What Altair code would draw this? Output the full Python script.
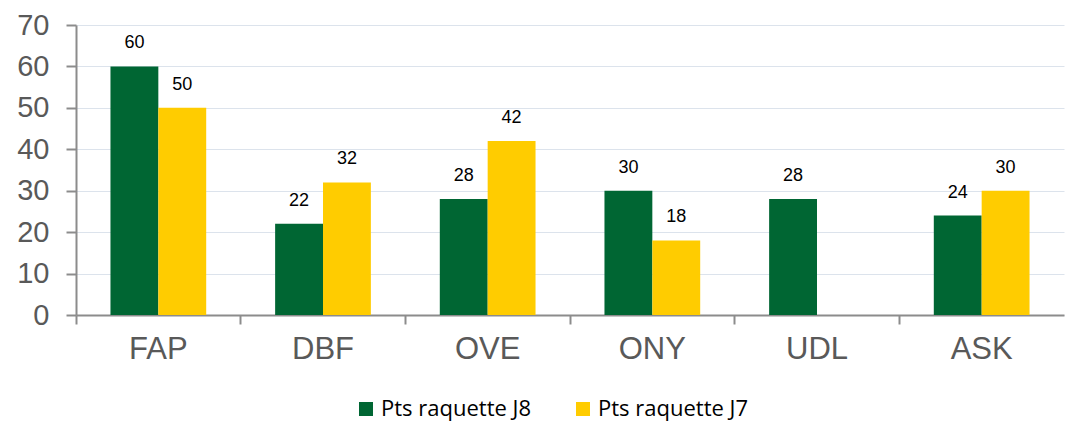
import altair as alt
import pandas as pd

categories = ["FAP", "DBF", "OVE", "ONY", "UDL", "ASK"]
series_names = ["Pts raquette J8", "Pts raquette J7"]
j8_values = [60, 22, 28, 30, 28, 24]
j7_values = [50, 32, 42, 18, None, 30]

rows = []
for c, a, b in zip(categories, j8_values, j7_values):
    rows.append({"cat": c, "serie": series_names[0], "val": a})
    rows.append({"cat": c, "serie": series_names[1], "val": b})
df = pd.DataFrame(rows)

colors = ["#006633", "#FFCC00"]

x = alt.X("cat:N", sort=categories, title=None,
          scale=alt.Scale(paddingInner=0, paddingOuter=0),
          axis=alt.Axis(labelAngle=0, labelFontSize=31, labelColor="#595959",
                        labelFont="Liberation Sans", labelPadding=10,
                        domainColor="#8C8C8C", domainWidth=2, tickColor="#8C8C8C",
                        tickWidth=2, tickSize=9, bandPosition=0, grid=False))
xo = alt.XOffset("serie:N", sort=series_names,
                 scale=alt.Scale(paddingInner=0, paddingOuter=0.72))
y = alt.Y("val:Q", title=None,
          scale=alt.Scale(domain=[0, 70]),
          axis=alt.Axis(values=list(range(0, 71, 10)), labelFontSize=29,
                        labelColor="#595959", labelFont="Liberation Sans",
                        labelPadding=17, domainColor="#8C8C8C", domainWidth=2,
                        tickColor="#8C8C8C", tickWidth=2, tickSize=10,
                        gridColor="#DCE3EC", gridWidth=1))

base = alt.Chart(df).transform_filter("datum.val != null")

bars = base.mark_bar().encode(
    x=x, xOffset=xo, y=y,
    color=alt.Color("serie:N", sort=series_names, title=None,
                    scale=alt.Scale(domain=series_names, range=colors),
                    legend=alt.Legend(orient="none", direction="horizontal",
                                      legendX=279, legendY=373,
                                      symbolType="square", symbolSize=196,
                                      symbolStrokeWidth=0,
                                      labelFontSize=22, labelFont="Open Sans",
                                      labelColor="#000000", columnPadding=40,
                                      labelLimit=300)),
)

labels = base.mark_text(baseline="alphabetic", dy=-18, fontSize=18,
                        font="Liberation Sans", color="#000000").encode(
    x=x, xOffset=xo, y=y, text=alt.Text("val:Q"),
)

chart = (bars + labels).properties(
    width=988, height=290,
    autosize=alt.AutoSizeParams(type="none"),
    padding={"left": 68, "top": 17, "right": 2, "bottom": 120},
).configure_view(stroke=None)

chart.save("out.html", embed_options={"renderer": "svg", "actions": False})
